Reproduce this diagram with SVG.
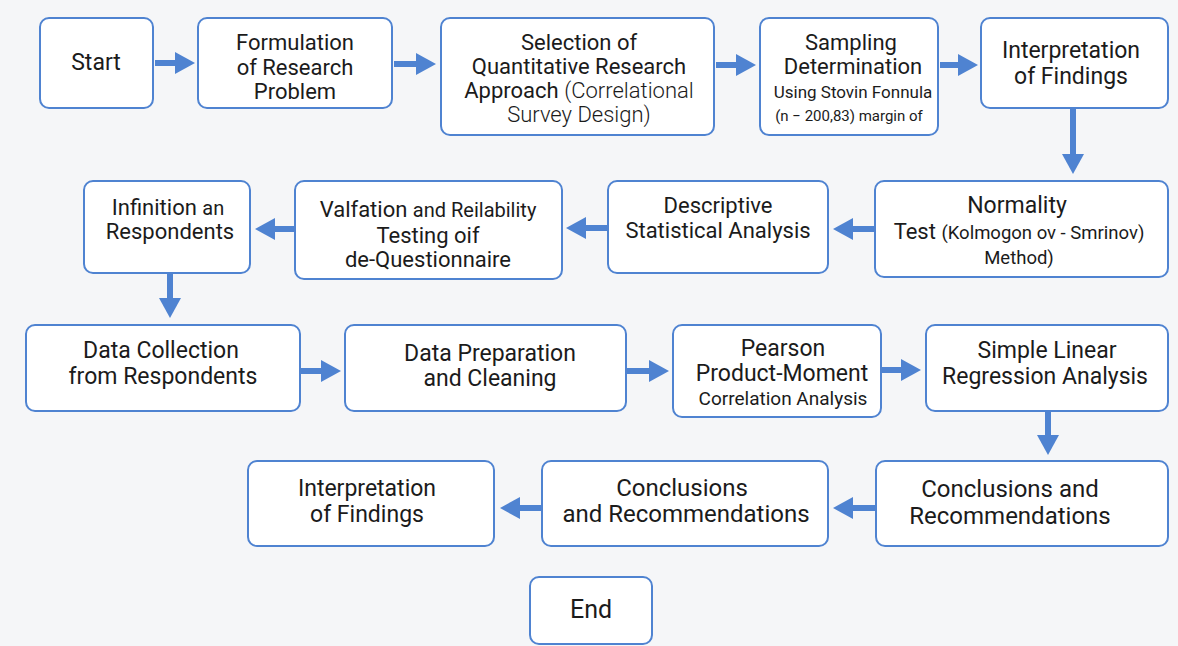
<svg xmlns="http://www.w3.org/2000/svg" width="1178" height="646" viewBox="0 0 1178 646">
  <style>
    .box { fill: #ffffff; stroke: #4f83d1; stroke-width: 2; }
    .t { font-family: Roboto, "Noto Sans", "Liberation Sans", sans-serif; font-size: 22px; fill: #1b1b1b; text-anchor: middle; }
    .m { font-size: 23px; }
    .l { font-size: 24px; }
    .s { font-size: 17px; }
    .xs { font-size: 15px; }
    .con { stroke: #4f83d1; stroke-width: 6; fill: none; marker-end: url(#head); }
  </style>
  <defs>
    <marker id="head" markerUnits="userSpaceOnUse" markerWidth="20" markerHeight="24" refX="2" refY="12" orient="auto">
      <path d="M0,1 L20,12 L0,23 Z" fill="#4f83d1"/>
    </marker>
  </defs>
  <rect width="1178" height="646" fill="#f5f6f8"/>

  <g id="connectors">
    <line class="con" x1="155" y1="63" x2="177" y2="63"/>
    <line class="con" x1="394" y1="64" x2="418" y2="64"/>
    <line class="con" x1="716" y1="65" x2="738" y2="65"/>
    <line class="con" x1="940" y1="65" x2="960" y2="65"/>
    <line class="con" x1="1073" y1="108" x2="1073" y2="156"/>
    <line class="con" x1="874" y1="229" x2="851" y2="229"/>
    <line class="con" x1="607" y1="228" x2="584" y2="228"/>
    <line class="con" x1="294" y1="229" x2="273" y2="229"/>
    <line class="con" x1="170" y1="273" x2="170" y2="300"/>
    <line class="con" x1="301" y1="371" x2="323" y2="371"/>
    <line class="con" x1="627" y1="371" x2="651" y2="371"/>
    <line class="con" x1="882" y1="370" x2="903" y2="370"/>
    <line class="con" x1="1048" y1="411" x2="1048" y2="437"/>
    <line class="con" x1="875" y1="508" x2="851" y2="508"/>
    <line class="con" x1="541" y1="508" x2="518" y2="508"/>
  </g>

  <g id="n-start">
    <rect class="box" x="40" y="18" width="113" height="90" rx="9"/>
    <text class="t m" x="96" y="70">Start</text>
  </g>
  <g id="n-formulation">
    <rect class="box" x="198" y="18" width="194" height="90" rx="9"/>
    <text class="t" x="295" y="50">Formulation</text>
    <text class="t" x="295" y="75">of Research</text>
    <text class="t" x="295" y="99">Problem</text>
  </g>
  <g id="n-selection">
    <rect class="box" x="441" y="18" width="273" height="117" rx="9"/>
    <text class="t" x="579" y="50">Selection of</text>
    <text class="t" x="579" y="74">Quantitative Research</text>
    <text class="t" x="579" y="98">Approach <tspan style="font-weight:300">(Correlational</tspan></text>
    <text class="t" x="579" y="122" style="font-weight:300">Survey Design)</text>
  </g>
  <g id="n-sampling">
    <rect class="box" x="760" y="18" width="178" height="117" rx="9"/>
    <text class="t" x="851" y="50">Sampling</text>
    <text class="t" x="853" y="74">Determination</text>
    <text class="t s" x="853" y="98">Using Stovin Fonnula</text>
    <text class="t xs" x="849" y="121">(n − 200,83) margin of</text>
  </g>
  <g id="n-interpretation-1">
    <rect class="box" x="981" y="18" width="187" height="90" rx="9"/>
    <text class="t m" x="1071" y="58">Interpretation</text>
    <text class="t m" x="1071" y="84">of Findings</text>
  </g>

  <g id="n-infinition">
    <rect class="box" x="84" y="181" width="166" height="92" rx="9"/>
    <text class="t" x="168" y="215">Infinition <tspan style="font-size:20px">an</tspan></text>
    <text class="t" x="170" y="239">Respondents</text>
  </g>
  <g id="n-validation">
    <rect class="box" x="295" y="181" width="267" height="98" rx="9"/>
    <text class="t" x="428" y="217">Valfation <tspan style="font-size:20px">and Reilability</tspan></text>
    <text class="t" x="428" y="243">Testing oif</text>
    <text class="t" x="428" y="267">de-Questionnaire</text>
  </g>
  <g id="n-descriptive">
    <rect class="box" x="608" y="181" width="220" height="92" rx="9"/>
    <text class="t" x="718" y="213">Descriptive</text>
    <text class="t" x="718" y="238">Statistical Analysis</text>
  </g>
  <g id="n-normality">
    <rect class="box" x="875" y="181" width="293" height="96" rx="9"/>
    <text class="t m" x="1017" y="213">Normality</text>
    <text class="t" x="1019" y="239">Test <tspan style="font-size:18.5px">(Kolmogon ov - Smrinov)</tspan></text>
    <text class="t" x="1019" y="264" style="font-size:18.5px">Method)</text>
  </g>

  <g id="n-collection">
    <rect class="box" x="26" y="325" width="274" height="86" rx="9"/>
    <text class="t m" x="161" y="358">Data Collection</text>
    <text class="t m" x="163" y="384">from Respondents</text>
  </g>
  <g id="n-preparation">
    <rect class="box" x="345" y="325" width="281" height="86" rx="9"/>
    <text class="t m" x="490" y="361">Data Preparation</text>
    <text class="t m" x="490" y="386">and Cleaning</text>
  </g>
  <g id="n-pearson">
    <rect class="box" x="673" y="325" width="208" height="92" rx="9"/>
    <text class="t m" x="783" y="356">Pearson</text>
    <text class="t m" x="782" y="381">Product-Moment</text>
    <text class="t" x="783" y="405" style="font-size:19px">Correlation Analysis</text>
  </g>
  <g id="n-regression">
    <rect class="box" x="926" y="325" width="242" height="86" rx="9"/>
    <text class="t m" x="1047" y="358">Simple Linear</text>
    <text class="t m" x="1045" y="384">Regression Analysis</text>
  </g>

  <g id="n-interpretation-2">
    <rect class="box" x="248" y="461" width="246" height="85" rx="9"/>
    <text class="t m" x="367" y="496">Interpretation</text>
    <text class="t m" x="367" y="522">of Findings</text>
  </g>
  <g id="n-conclusions-1">
    <rect class="box" x="542" y="461" width="286" height="85" rx="9"/>
    <text class="t l" x="682" y="496">Conclusions</text>
    <text class="t l" x="686" y="522">and Recommendations</text>
  </g>
  <g id="n-conclusions-2">
    <rect class="box" x="876" y="461" width="292" height="85" rx="9"/>
    <text class="t" x="1010" y="497" style="font-size:24px">Conclusions and</text>
    <text class="t" x="1010" y="524" style="font-size:24px">Recommendations</text>
  </g>

  <g id="n-end">
    <rect class="box" x="530" y="577" width="122" height="67" rx="9"/>
    <text class="t" x="591" y="618" style="font-size:25px">End</text>
  </g>
</svg>
